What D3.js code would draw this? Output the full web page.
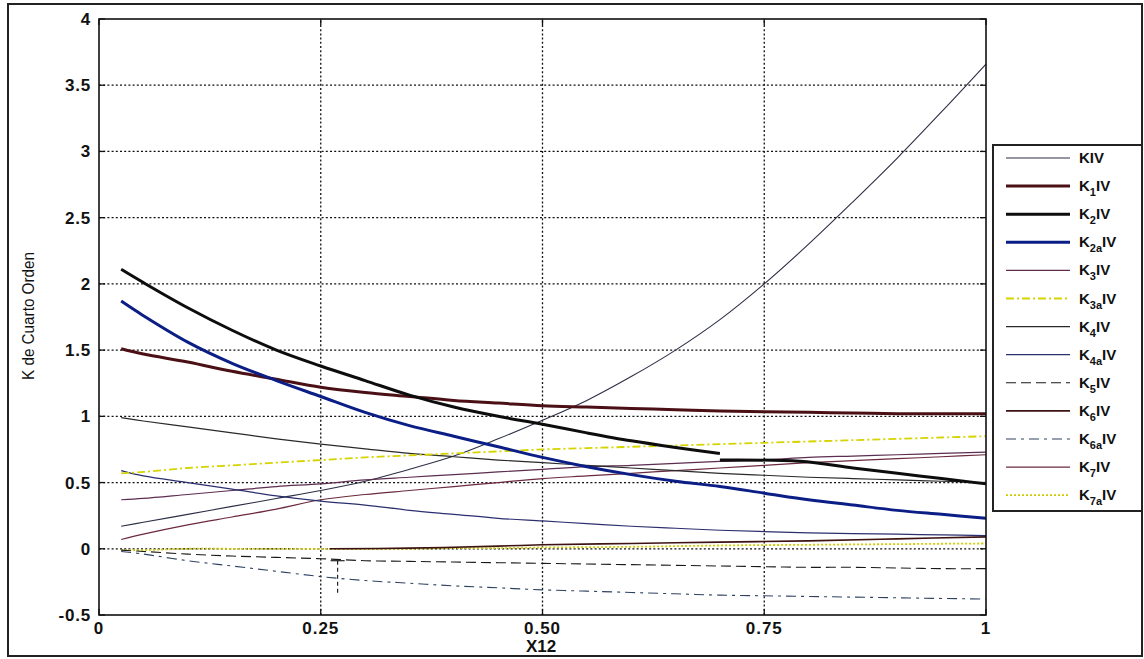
<!DOCTYPE html>
<html>
<head>
<meta charset="utf-8">
<script src="https://cdn.jsdelivr.net/npm/d3@7"></script>
<style>
  html, body { margin: 0; padding: 0; background: #fff; }
  svg { display: block; }
  text { font-family: "Liberation Sans", Arial, sans-serif; fill: #111; }
</style>
</head>
<body>
<svg id="chart" width="1144" height="659"></svg>
<script>
// Sample abscissa (mole fraction X12) shared by most series
const xFull = [0.025,0.05,0.1,0.15,0.2,0.25,0.3,0.35,0.4,0.45,0.5,0.55,0.6,0.65,0.7,0.75,0.8,0.85,0.9,0.95,1];

// Fourth-order K values
const kIV  = [0.17,0.20,0.26,0.32,0.38,0.44,0.51,0.60,0.70,0.83,0.97,1.12,1.30,1.50,1.73,2.00,2.30,2.62,2.95,3.30,3.66];
const k1IV = [1.51,1.47,1.41,1.34,1.28,1.22,1.18,1.15,1.12,1.10,1.08,1.07,1.06,1.05,1.04,1.035,1.03,1.025,1.02,1.02,1.02];
const k2aIV = [1.87,1.76,1.56,1.40,1.27,1.15,1.03,0.93,0.85,0.77,0.69,0.62,0.56,0.51,0.47,0.42,0.37,0.33,0.29,0.26,0.23];
const k3IV = [0.37,0.38,0.41,0.44,0.47,0.49,0.52,0.54,0.56,0.58,0.60,0.62,0.63,0.645,0.66,0.67,0.69,0.70,0.71,0.72,0.73];
const k3aIV = [0.57,0.58,0.61,0.63,0.65,0.67,0.69,0.705,0.72,0.735,0.75,0.76,0.77,0.78,0.79,0.80,0.81,0.82,0.83,0.84,0.85];
const k4IV = [0.99,0.965,0.92,0.875,0.83,0.79,0.755,0.72,0.695,0.67,0.65,0.63,0.61,0.59,0.57,0.555,0.54,0.53,0.52,0.51,0.50];
const k4aIV = [0.59,0.55,0.50,0.45,0.40,0.36,0.33,0.29,0.26,0.23,0.21,0.19,0.17,0.155,0.14,0.13,0.12,0.115,0.11,0.105,0.10];
const k5IV = [-0.01,-0.02,-0.04,-0.055,-0.065,-0.075,-0.09,-0.095,-0.10,-0.105,-0.11,-0.115,-0.12,-0.125,-0.13,-0.135,-0.14,-0.14,-0.145,-0.15,-0.15];
const k6aIV = [-0.02,-0.04,-0.09,-0.13,-0.17,-0.21,-0.24,-0.26,-0.28,-0.295,-0.31,-0.32,-0.33,-0.34,-0.35,-0.355,-0.36,-0.365,-0.37,-0.375,-0.38];
const k7IV = [0.07,0.11,0.18,0.24,0.30,0.37,0.41,0.44,0.47,0.50,0.53,0.55,0.57,0.59,0.61,0.63,0.65,0.665,0.68,0.695,0.71];
const k7aIV = [-0.01,-0.01,0,0,0,0,0,0,0.005,0.005,0.01,0.012,0.015,0.02,0.025,0.028,0.03,0.033,0.035,0.038,0.04];

// K2 has two branches: the main curve up to X12 = 0.70 and a second branch from there to 1
const x2 = [0.025,0.05,0.1,0.15,0.2,0.25,0.3,0.35,0.4,0.45,0.5,0.55,0.6,0.65,0.7];
const k2IV = [2.11,2.01,1.82,1.65,1.50,1.38,1.27,1.16,1.07,1.00,0.94,0.875,0.815,0.765,0.72];
const x2b = [0.70,0.79,0.85,0.9,0.95,1];
const k2IVb = [0.67,0.66,0.61,0.57,0.53,0.49];

// K6 is only defined from X12 ≈ 0.26
const x6 = [0.26,0.35,0.45,0.5,0.6,0.7,0.8,0.9,1];
const k6IV = [0.0,0.005,0.02,0.03,0.04,0.05,0.06,0.075,0.09];

// Error-bar style annotation under the curves
const annotX = [0.269];
const annotY = [-0.09, -0.34];

// Axis ticks
const xTicks = [0, 0.25, 0.5, 0.75, 1];
const xTickLabels = ["0", "0.25", "0.50", "0.75", "1"];
const yTicks = [-0.5, 0, 0.5, 1, 1.5, 2, 2.5, 3, 3.5, 4];
const yTickLabels = ["-0.5", "0", "0.5", "1", "1.5", "2", "2.5", "3", "3.5", "4"];

// Legend subscripts, in legend order
const legendSubs = ["", "1", "2", "2a", "3", "3a", "4", "4a", "5", "6", "6a", "7", "7a"];

const svg = d3.select("#chart");
const W = 1144, H = 659;
const x = d3.scaleLinear().domain([0, 1]).range([99, 986]);
const y = d3.scaleLinear().domain([-0.5, 4]).range([615, 19]);

svg.append("rect").attr("width", W).attr("height", H).attr("fill", "#fff");

// Outer figure frame
svg.append("rect").attr("x", 8).attr("y", 4).attr("width", 1134).attr("height", 652)
  .attr("fill", "none").attr("stroke", "#222").attr("stroke-width", 2);

// Grid lines
const grid = svg.append("g").attr("stroke", "#111").attr("stroke-width", 1.3).attr("stroke-dasharray", "2,2.2");
grid.selectAll("line.gx").data(xTicks.slice(1, -1)).join("line")
  .attr("x1", d => x(d)).attr("x2", d => x(d)).attr("y1", y(-0.5)).attr("y2", y(4));
grid.selectAll("line.gy").data(yTicks.slice(1, -1)).join("line")
  .attr("x1", x(0)).attr("x2", x(1)).attr("y1", d => y(d)).attr("y2", d => y(d));

// Series styles; each series may have several branches
const series = [
  { name: "KIV",  parts: [[xFull, kIV]],  color: "#2c2f45", w: 1.1, dash: null },
  { name: "K1IV", parts: [[xFull, k1IV]], color: "#4a1015", w: 3, dash: null },
  { name: "K2IV", parts: [[x2, k2IV], [x2b, k2IVb]], color: "#0d0d0d", w: 3, dash: null },
  { name: "K2aIV", parts: [[xFull, k2aIV]], color: "#0b1e86", w: 3, dash: null },
  { name: "K3IV", parts: [[xFull, k3IV]], color: "#5c2d50", w: 1.2, dash: null },
  { name: "K3aIV", parts: [[xFull, k3aIV]], color: "#d6d400", w: 1.8, dash: "8,3,2,3" },
  { name: "K4IV", parts: [[xFull, k4IV]], color: "#2a2a2a", w: 1.2, dash: null },
  { name: "K4aIV", parts: [[xFull, k4aIV]], color: "#2b2f6e", w: 1.2, dash: null },
  { name: "K5IV", parts: [[xFull, k5IV]], color: "#1a1a1a", w: 1.1, dash: "10,5" },
  { name: "K6IV", parts: [[x6, k6IV]],    color: "#3d1212", w: 1.6, dash: null },
  { name: "K6aIV", parts: [[xFull, k6aIV]], color: "#2e4260", w: 1.1, dash: "10,5,3,5" },
  { name: "K7IV", parts: [[xFull, k7IV]], color: "#6b2a3e", w: 1.2, dash: null },
  { name: "K7aIV", parts: [[xFull, k7aIV]], color: "#cfcc00", w: 1.8, dash: "2,2" }
];

const line = d3.line().x(d => x(d[0])).y(d => y(d[1])).curve(d3.curveCatmullRom.alpha(0.5));
const plot = svg.append("g");
// thick curves are drawn last so they sit on top
const drawOrder = [12, 8, 10, 9, 0, 4, 11, 6, 7, 5, 1, 3, 2];
drawOrder.forEach(i => {
  const s = series[i];
  s.parts.forEach(([xs, ys]) => {
    plot.append("path")
      .datum(xs.map((v, j) => [v, ys[j]]))
      .attr("d", line)
      .attr("fill", "none")
      .attr("stroke", s.color)
      .attr("stroke-width", s.w)
      .attr("stroke-dasharray", s.dash)
      .attr("stroke-linejoin", "round");
  });
});

// Annotation marker
const ann = svg.append("g").attr("stroke", "#222").attr("stroke-width", 1.2);
ann.append("line").attr("x1", x(annotX[0]) - 7).attr("x2", x(annotX[0]) + 7)
  .attr("y1", y(annotY[0])).attr("y2", y(annotY[0]));
ann.append("line").attr("x1", x(annotX[0])).attr("x2", x(annotX[0]))
  .attr("y1", y(annotY[0])).attr("y2", y(annotY[1])).attr("stroke-dasharray", "4,3");

// Axes box
svg.append("rect").attr("x", x(0)).attr("y", y(4)).attr("width", x(1) - x(0)).attr("height", y(-0.5) - y(4))
  .attr("fill", "none").attr("stroke", "#111").attr("stroke-width", 1.6);

// Inward tick marks
const ticks = svg.append("g").attr("stroke", "#111").attr("stroke-width", 1.3);
yTicks.forEach(v => {
  ticks.append("line").attr("x1", x(0)).attr("x2", x(0) + 6).attr("y1", y(v)).attr("y2", y(v));
  ticks.append("line").attr("x1", x(1)).attr("x2", x(1) - 6).attr("y1", y(v)).attr("y2", y(v));
});
xTicks.forEach(v => {
  ticks.append("line").attr("x1", x(v)).attr("x2", x(v)).attr("y1", y(-0.5)).attr("y2", y(-0.5) - 6);
  ticks.append("line").attr("x1", x(v)).attr("x2", x(v)).attr("y1", y(4)).attr("y2", y(4) + 6);
});

// Tick labels
svg.append("g").selectAll("text").data(yTicks).join("text")
  .attr("x", x(0) - 8).attr("y", d => y(d) + 6)
  .attr("text-anchor", "end").attr("font-size", 17).attr("font-weight", "bold")
  .attr("letter-spacing", 0.8)
  .text((d, i) => yTickLabels[i]);
svg.append("g").selectAll("text").data(xTicks).join("text")
  .attr("x", d => x(d)).attr("y", 634)
  .attr("text-anchor", "middle").attr("font-size", 17).attr("font-weight", "bold")
  .attr("letter-spacing", 1)
  .text((d, i) => xTickLabels[i]);

// Axis titles
svg.append("text").attr("x", 541).attr("y", 652).attr("text-anchor", "middle")
  .attr("font-size", 17).attr("font-weight", "bold").text("X12");
svg.append("text").attr("transform", "translate(34,316) rotate(-90)")
  .attr("text-anchor", "middle").attr("font-size", 16)
  .attr("textLength", 128).attr("lengthAdjust", "spacingAndGlyphs")
  .text("K de Cuarto Orden");

// Legend
const lg = svg.append("g");
lg.append("rect").attr("x", 993).attr("y", 145).attr("width", 149).attr("height", 366)
  .attr("fill", "#fff").attr("stroke", "#222").attr("stroke-width", 2);
series.forEach((s, i) => {
  const ly = 158 + i * 28.1;
  lg.append("line").attr("x1", 1006).attr("x2", 1070).attr("y1", ly).attr("y2", ly)
    .attr("stroke", s.color).attr("stroke-width", s.w).attr("stroke-dasharray", s.dash);
  const t = lg.append("text").attr("x", 1079).attr("y", ly + 5)
    .attr("font-size", 15).attr("font-weight", "bold");
  t.append("tspan").text("K");
  if (legendSubs[i]) {
    t.append("tspan").attr("font-size", 11).attr("dy", 5).text(legendSubs[i]);
    t.append("tspan").attr("dy", -5).text("IV");
  } else {
    t.append("tspan").text("IV");
  }
});
</script>
</body>
</html>
